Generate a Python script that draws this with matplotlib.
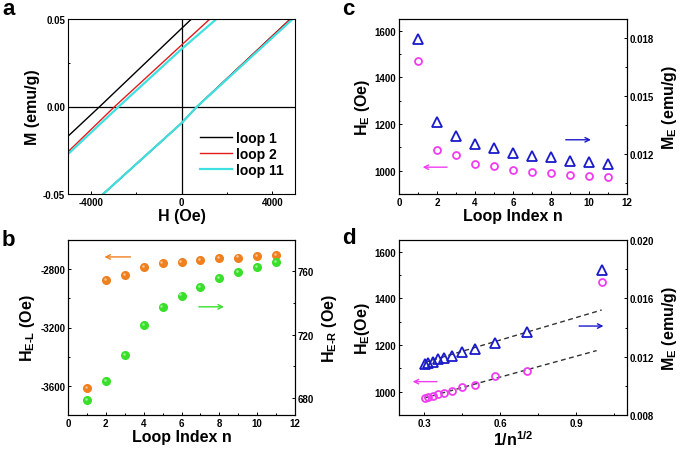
import numpy as np
import matplotlib
matplotlib.use("Agg")
import matplotlib.pyplot as plt
from matplotlib.transforms import ScaledTranslation

plt.rcParams['font.family'] = ['Liberation Sans', 'DejaVu Sans']
plt.rcParams['font.weight'] = 'bold'
plt.rcParams['axes.labelweight'] = 'bold'
plt.rcParams['mathtext.fontset'] = 'custom'
plt.rcParams['mathtext.rm'] = 'Liberation Sans:bold'
plt.rcParams['mathtext.bf'] = 'Liberation Sans:bold'
plt.rcParams['mathtext.it'] = 'Liberation Sans:bold'
plt.rcParams['mathtext.default'] = 'bf'
plt.rcParams['axes.unicode_minus'] = False
plt.rcParams['axes.linewidth'] = 0.8

#%% Data
# (a) descending / ascending branches of the M-H loops
loop1_dn_H = [-5000, -3600, 440]
loop1_dn_M = [-0.0170, 0.0, 0.05]
loop2_dn_H = [-5000, -2940, 1250]
loop2_dn_M = [-0.0259, 0.0, 0.05]
loop11_dn_H = [-5000, -2760, 0, 1540]
loop11_dn_M = [-0.0272, 0.0, 0.0328, 0.05]
loop_up_H = [-3450, 0, 690, 4800]
loop_up_M = [-0.05, -0.0095, 0.0, 0.05]
loop11_up_H = [-3450, 0, 690, 4900]
loop11_up_M = [-0.05, -0.0095, 0.0, 0.05]

# (b) left / right exchange fields vs loop index
loop_n = [1, 2, 3, 4, 5, 6, 7, 8, 9, 10, 11]
H_EL = [-3616, -2873, -2839, -2784, -2761, -2752, -2738, -2725, -2720, -2709, -2706]
H_ER = [678.7, 690.7, 707.0, 725.8, 737.2, 744.6, 750.2, 755.4, 759.6, 762.5, 765.6]

# (c, d) exchange field and magnetization shift
H_E = [1469, 1087, 1067, 1030, 1019, 1004, 996, 990, 983, 976, 974]
M_E = [0.01796, 0.01366, 0.01296, 0.01253, 0.01231, 0.01205, 0.01189, 0.01184, 0.01163, 0.01158, 0.01149]
inv_sqrt_n = [1.0, 0.707, 0.577, 0.5, 0.447, 0.408, 0.378, 0.354, 0.333, 0.316, 0.302]

# (d) dashed fit lines (end points)
fitM_x = [0.30, 1.00]
fitM_y = [0.0116, 0.0152]
fitH_x = [0.30, 0.98]
fitH_y = [973, 1176]

#%% Figure
fig = plt.figure(figsize=(6.85, 4.52), dpi=100)
W, H = 685, 452

def box(l, t, r, b):
    return [l / W, 1 - b / H, (r - l) / W, (b - t) / H]

def style(ax):
    ax.tick_params(which='both', direction='in', labelsize=7, pad=2, width=0.7)
    ax.tick_params(which='major', length=2.5)
    ax.tick_params(which='minor', length=1.5)

blue = '#1a1acc'
magenta = '#f03cf0'
orange = '#f0801e'
green = '#38e02a'

def ball(ax, x, y, c):
    ax.plot(x, y, 'o', color=c, ms=5.5, mec=c, zorder=3)
    off = ax.transData + ScaledTranslation(-0.8 / 72, 0.8 / 72, fig.dpi_scale_trans)
    ax.plot(x, y, 'o', color='white', alpha=0.55, ms=1.8, mew=0, transform=off, zorder=4)

#%% (a) M-H loops
axa = fig.add_axes(box(68, 20, 295, 195))
axa.axhline(0, color='black', lw=0.9)
axa.axvline(0, color='black', lw=0.9)
axa.plot(loop_up_H, loop_up_M, color='black', lw=1.0)
axa.plot(loop_up_H, loop_up_M, color='#e41a1c', lw=1.0)
axa.plot(loop11_up_H, loop11_up_M, color='#3ee0e0', lw=1.6)
la, = axa.plot(loop1_dn_H, loop1_dn_M, color='black', lw=1.0, label='loop 1')
lb, = axa.plot(loop2_dn_H, loop2_dn_M, color='#e41a1c', lw=1.0, label='loop 2')
lc, = axa.plot(loop11_dn_H, loop11_dn_M, color='#3ee0e0', lw=1.6, label='loop 11')
axa.set_xlim(-5000, 5000)
axa.set_ylim(-0.05, 0.05)
axa.set_xticks([-4000, 0, 4000])
axa.set_xticks([-2000, 2000], minor=True)
axa.set_yticks([-0.05, 0.0, 0.05])
axa.set_yticks([-0.025, 0.025], minor=True)
axa.set_yticklabels(['-0.05', '0.00', '0.05'])
axa.set_xlabel('H (Oe)', fontsize=11.5, labelpad=1)
axa.set_ylabel('M (emu/g)', fontsize=11.5, labelpad=2)
style(axa)
axa.legend(handles=[la, lb, lc], loc='upper left', bbox_to_anchor=(0.552, 0.40),
           frameon=False, fontsize=10, handlelength=2.3, handletextpad=0.3,
           labelspacing=0.15, borderpad=0)

#%% (b) H_E-L and H_E-R
axb = fig.add_axes(box(68, 241, 295, 416))
axb2 = axb.twinx()
ball(axb, loop_n, H_EL, orange)
ball(axb2, loop_n, H_ER, green)
axb.set_xlim(0, 12)
axb.set_ylim(-3800, -2600)
axb2.set_ylim(669.5, 779.5)
axb.set_xticks(range(0, 13, 2))
axb.set_xticks(range(1, 12, 2), minor=True)
axb.set_yticks([-3600, -3200, -2800])
axb.set_yticks([-3400, -3000], minor=True)
axb2.set_yticks([680, 720, 760])
axb2.set_yticks([700, 740], minor=True)
axb.set_xlabel('Loop Index n', fontsize=11.5, labelpad=1)
axb.set_ylabel(r'H$_{E\text{-}L}$ (Oe)', fontsize=11.5, labelpad=2)
axb2.set_ylabel(r'H$_{E\text{-}R}$ (Oe)', fontsize=11.5, labelpad=4)
style(axb)
style(axb2)
axb.annotate('', xy=(1.78, -2716), xytext=(3.45, -2716),
             arrowprops=dict(arrowstyle='->', color=orange, lw=1.0, mutation_scale=8))
axb2.annotate('', xy=(8.39, 737.5), xytext=(6.77, 737.5),
              arrowprops=dict(arrowstyle='->', color=green, lw=1.0, mutation_scale=8))

#%% (c) H_E and M_E vs loop index
axc = fig.add_axes(box(399, 20, 627, 195))
axc2 = axc.twinx()
axc.plot(loop_n, H_E, 'o', mfc='none', mec=magenta, ms=5, mew=1.3)
axc2.plot(loop_n, M_E, '^', mfc='none', mec=blue, ms=6.5, mew=1.3)
axc.set_xlim(0, 12)
axc.set_ylim(900, 1650)
axc2.set_ylim(0.00993, 0.0190)
axc.set_xticks(range(0, 13, 2))
axc.set_xticks(range(1, 12, 2), minor=True)
axc.set_yticks([1000, 1200, 1400, 1600])
axc.set_yticks([1100, 1300, 1500], minor=True)
axc2.set_yticks([0.012, 0.015, 0.018])
axc2.set_yticks([0.0105, 0.0135, 0.0165], minor=True)
axc2.set_yticklabels(['0.012', '0.015', '0.018'])
axc.set_xlabel('Loop Index n', fontsize=11.5, labelpad=1)
axc.set_ylabel(r'H$_E$ (Oe)', fontsize=11.5, labelpad=2)
axc2.set_ylabel(r'M$_E$ (emu/g)', fontsize=11.5, labelpad=4)
style(axc)
style(axc2)
axc.annotate('', xy=(1.10, 1015), xytext=(2.68, 1015),
             arrowprops=dict(arrowstyle='->', color=magenta, lw=1.0, mutation_scale=8))
axc2.annotate('', xy=(10.25, 0.01274), xytext=(8.63, 0.01274),
              arrowprops=dict(arrowstyle='->', color=blue, lw=1.0, mutation_scale=8))

#%% (d) H_E and M_E vs 1/sqrt(n)
axd = fig.add_axes(box(399, 241, 627, 416))
axd2 = axd.twinx()
axd.plot(fitH_x, fitH_y, color='#333333', lw=1.0, dashes=(3.5, 2.5))
axd2.plot(fitM_x, fitM_y, color='#333333', lw=1.0, dashes=(3.5, 2.5))
axd.plot(inv_sqrt_n, H_E, 'o', mfc='none', mec=magenta, ms=5, mew=1.3)
axd2.plot(inv_sqrt_n, M_E, '^', mfc='none', mec=blue, ms=6.5, mew=1.3)
axd.set_xlim(0.2, 1.1)
axd.set_ylim(900, 1650)
axd2.set_ylim(0.008, 0.020)
axd.set_xticks([0.3, 0.6, 0.9])
axd.set_xticks([0.45, 0.75, 1.05], minor=True)
axd.set_yticks([1000, 1200, 1400, 1600])
axd.set_yticks([1100, 1300, 1500], minor=True)
axd2.set_yticks([0.008, 0.012, 0.016, 0.020])
axd2.set_yticks([0.010, 0.014, 0.018], minor=True)
axd2.set_yticklabels(['0.008', '0.012', '0.016', '0.020'])
axd.set_xlabel(r'1/n$^{1/2}$', fontsize=11.5, labelpad=1)
axd.set_ylabel(r'H$_E$(Oe)', fontsize=11.5, labelpad=2)
axd2.set_ylabel(r'M$_E$ (emu/g)', fontsize=11.5, labelpad=4)
style(axd)
style(axd2)
axd.annotate('', xy=(0.243, 1043), xytext=(0.361, 1043),
             arrowprops=dict(arrowstyle='->', color=magenta, lw=1.0, mutation_scale=8))
axd2.annotate('', xy=(1.018, 0.0141), xytext=(0.90, 0.0141),
              arrowprops=dict(arrowstyle='->', color=blue, lw=1.0, mutation_scale=8))

#%% Panel letters
for lbl, x, y in [('a', 2, 15), ('b', 2, 246), ('c', 342, 15), ('d', 342, 244)]:
    fig.text(x / W, 1 - y / H, lbl, fontsize=16, fontweight='bold', va='baseline')

fig.savefig('out.png', dpi=100)
